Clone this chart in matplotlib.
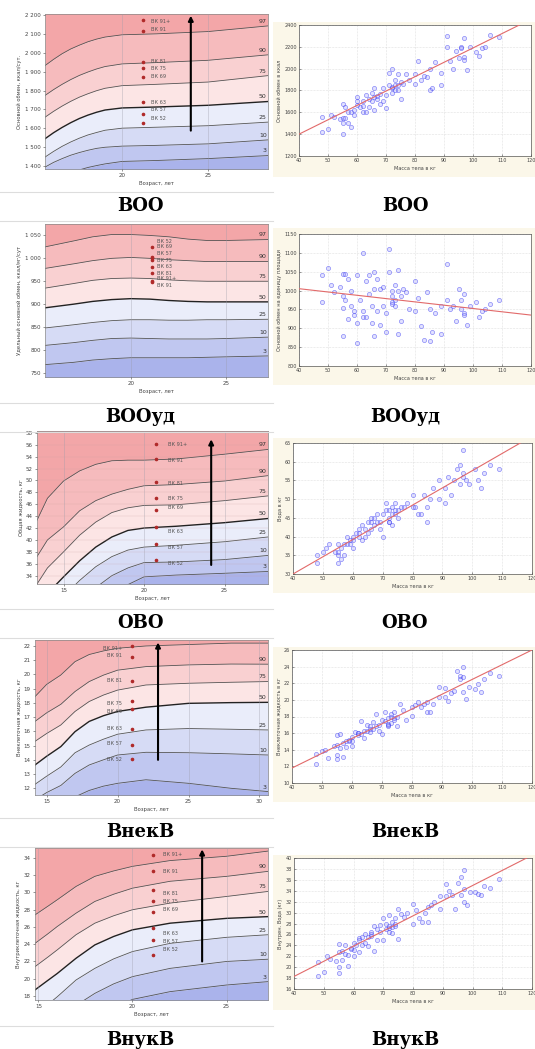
import matplotlib
matplotlib.use("Agg")
import matplotlib.pyplot as plt
from matplotlib.patches import Rectangle
import numpy as np

W, H = 535, 1049

# ---------------- centile panels (left column) ----------------
centiles = ["97", "90", "75", "50", "25", "10", "3"]
vk_names = ["ВК 91+", "ВК 91", "ВК 81", "ВК 75", "ВК 69", "ВК 63", "ВК 57", "ВК 52"]

# ВОО
boo_age = [15.5, 16, 16.5, 17, 17.5, 18, 18.5, 19, 20, 22, 25, 28.5]
boo_c97 = [1932, 1965, 1995, 2020, 2040, 2058, 2072, 2083, 2095, 2100, 2112, 2142]
boo_c90 = [1774, 1805, 1833, 1858, 1880, 1898, 1914, 1927, 1941, 1948, 1960, 1989]
boo_c75 = [1659, 1690, 1718, 1743, 1765, 1783, 1799, 1812, 1826, 1833, 1845, 1879]
boo_c50 = [1545, 1577, 1605, 1630, 1652, 1670, 1685, 1697, 1708, 1713, 1722, 1742]
boo_c25 = [1448, 1478, 1505, 1528, 1548, 1565, 1578, 1590, 1601, 1606, 1614, 1633]
boo_c10 = [1395, 1420, 1440, 1458, 1472, 1484, 1494, 1500, 1506, 1510, 1518, 1539]
boo_c3 = [1310, 1330, 1350, 1366, 1380, 1393, 1403, 1412, 1425, 1430, 1440, 1456]
boo_vk = [2174, 2117, 1953, 1920, 1874, 1738, 1677, 1627]
boo_vk_lab = [2166, 2121, 1953, 1915, 1874, 1738, 1700, 1654]
boo_yticks = [1400, 1500, 1600, 1700, 1800, 1900, 2000, 2100, 2200]
boo_yticklabels = ["1 400", "1 500", "1 600", "1 700", "1 800", "1 900", "2 000", "2 100", "2 200"]

# ВООуд
bood_age = [15.5, 17, 18, 19, 20, 21, 22, 23, 24, 25, 27.2]
bood_c97 = [1025, 1038, 1047, 1052, 1052, 1050, 1047, 1042, 1039, 1039, 1041]
bood_c90 = [978, 988, 995, 1000, 1002, 1000, 997, 995, 993, 993, 993]
bood_c75 = [935, 945, 952, 956, 957, 956, 953, 951, 950, 950, 950]
bood_c50 = [892, 900, 906, 910, 912, 911, 908, 906, 905, 905, 905]
bood_c25 = [848, 855, 860, 864, 866, 866, 865, 865, 866, 866, 867]
bood_c10 = [810, 816, 821, 825, 826, 825, 824, 824, 824, 825, 828]
bood_c3 = [768, 773, 778, 781, 783, 783, 783, 783, 784, 785, 787]
bood_names = ["ВК 52", "ВК 69", "ВК 57", "ВК 75", "ВК 63", "ВК 81", "ВК 91+", "ВК 91"]
bood_vk = [1025, 1003, 1000, 997, 981, 967, 950, 948]
bood_vk_lab = [1037, 1025, 1011, 996, 982, 967, 955, 941]
bood_yticks = [750, 800, 850, 900, 950, 1000, 1050]
bood_yticklabels = ["750", "800", "850", "900", "950", "1 000", "1 050"]

# ОВО
ovo_age = [13.35, 14, 15, 16, 17, 18, 19, 20, 22, 25, 27.7]
ovo_c97 = [43.3, 47.0, 49.9, 51.6, 52.7, 53.3, 53.4, 53.4, 53.6, 54.4, 55.2]
ovo_c90 = [37.2, 40.0, 42.2, 44.9, 46.6, 47.7, 48.5, 49.1, 49.3, 49.9, 50.8]
ovo_c75 = [32.6, 35.3, 38.0, 40.8, 43.0, 44.6, 45.4, 45.8, 45.9, 46.6, 47.4]
ovo_c50 = [29.0, 31.0, 33.8, 36.5, 38.8, 40.5, 41.6, 42.0, 42.3, 42.9, 43.6]
ovo_c25 = [26.0, 28.0, 30.5, 33.2, 35.5, 37.2, 38.3, 38.8, 39.1, 39.7, 40.5]
ovo_c10 = [22.0, 24.0, 27.0, 30.0, 32.0, 34.0, 35.3, 36.2, 36.3, 36.7, 37.4]
ovo_c3 = [18.0, 20.0, 23.0, 26.0, 28.5, 31.0, 32.5, 33.8, 34.1, 34.4, 34.7]
ovo_vk = [56.1, 53.6, 49.8, 47.1, 45.1, 42.1, 39.4, 36.7]
ovo_vk_lab = [56.1, 53.4, 49.5, 46.9, 45.5, 41.5, 38.8, 36.1]
ovo_yticks = [34, 36, 38, 40, 42, 44, 46, 48, 50, 52, 54, 56, 58]

# ВнекВ
vnek_age = [14.18, 15, 16, 17, 18, 19, 20, 22, 25, 28, 30.6]
vnek_c97 = [18.44, 19.3, 19.96, 20.9, 21.4, 21.65, 21.84, 22.0, 22.1, 22.2, 22.2]
vnek_c90 = [16.7, 17.3, 17.9, 18.8, 19.5, 19.95, 20.3, 20.55, 20.67, 20.73, 20.72]
vnek_c75 = [15.3, 15.85, 16.45, 17.4, 18.1, 18.55, 18.9, 19.26, 19.38, 19.45, 19.5]
vnek_c50 = [13.64, 14.25, 14.93, 15.98, 16.7, 17.1, 17.4, 17.7, 17.97, 18.02, 18.04]
vnek_c25 = [12.28, 12.85, 13.5, 14.5, 15.04, 15.45, 15.8, 16.1, 16.2, 16.15, 16.1]
vnek_c10 = [11.2, 11.7, 12.2, 13.05, 13.64, 14.0, 14.34, 14.53, 14.5, 14.42, 14.34]
vnek_c3 = [9.5, 10.2, 10.9, 11.4, 11.85, 12.15, 12.35, 12.6, 12.35, 12.0, 11.77]
vnek_vk = [22.0, 21.2, 19.56, 18.13, 17.55, 16.17, 15.04, 14.04]
vnek_vk_lab = [21.84, 21.3, 19.56, 17.97, 17.38, 16.2, 15.16, 14.04]
vnek_yticks = [12, 13, 14, 15, 16, 17, 18, 19, 20, 21, 22]

# ВнукВ
vnuk_age = [14.82, 15.5, 16, 17, 18, 19, 20, 22, 25, 27.2]
vnuk_c97 = [27.4, 28.4, 29.15, 30.7, 31.87, 32.5, 33.03, 33.7, 34.2, 34.8]
vnuk_c90 = [24.1, 25.2, 26.05, 27.6, 28.96, 29.8, 30.5, 31.3, 31.87, 32.45]
vnuk_c75 = [21.4, 22.5, 23.34, 25.1, 26.44, 27.3, 28.0, 28.77, 29.54, 30.12]
vnuk_c50 = [18.7, 19.8, 20.6, 22.37, 23.92, 24.9, 25.67, 26.44, 27.0, 27.2]
vnuk_c25 = [15.8, 17.0, 17.9, 19.85, 21.2, 22.3, 23.15, 24.1, 24.8, 25.1]
vnuk_c10 = [12.0, 13.5, 14.5, 16.9, 18.3, 19.4, 20.24, 21.2, 22.0, 22.26]
vnuk_c3 = [8.0, 10.0, 11.0, 13.0, 15.0, 16.6, 17.6, 18.5, 19.27, 19.66]
vnuk_vk = [34.4, 32.5, 30.3, 29.0, 27.7, 25.85, 24.5, 22.8]
vnuk_vk_lab = [34.39, 32.45, 29.85, 28.96, 27.99, 25.2, 24.3, 23.34]
vnuk_yticks = [18, 20, 22, 24, 26, 28, 30, 32, 34]

# ---------------- scatter panels (right column) ----------------
mass = [48, 48, 50, 51, 52, 54, 55, 55, 55, 55,
        56, 56, 57, 57, 58, 58, 59, 60, 60, 60,
        61, 62, 62, 63, 63, 64, 64, 65, 65, 66,
        66, 67, 67, 68, 68, 69, 69, 70, 70, 71,
        71, 72, 72, 72, 73, 73, 73, 74, 74, 75,
        75, 76, 77, 78, 80, 80, 81, 82, 83, 84,
        85, 85, 86, 87, 89, 89, 91, 91, 92, 93,
        94, 95, 96, 96, 97, 97, 97, 98, 99, 101,
        102, 103, 104, 106, 109, 66, 72, 62, 74, 59]
bmr = [1560, 1420, 1450, 1580, 1560, 1540, 1400, 1500, 1550, 1680,
       1650, 1550, 1500, 1600, 1600, 1470, 1580, 1670, 1700, 1740,
       1650, 1600, 1700, 1600, 1760, 1720, 1650, 1780, 1700, 1820,
       1620, 1720, 1750, 1680, 1770, 1700, 1820, 1760, 1640, 1960,
       1850, 2000, 1820, 1780, 1800, 1850, 1900, 1850, 1950, 1880,
       1720, 1860, 1950, 1900, 1950, 1860, 2070, 1900, 1930, 1920,
       1800, 2000, 1820, 2060, 1960, 1850, 2300, 2200, 2070, 2000,
       2160, 2100, 2200, 2190, 2280, 2110, 2080, 1990, 2200, 2150,
       2120, 2190, 2200, 2310, 2290, 1740, 1830, 1660, 1800, 1620]
bmr_area = [1040, 970, 1060, 1015, 995, 1010, 1045, 985, 955, 880,
            1045, 975, 1030, 925, 1000, 960, 945, 1040, 915, 860,
            975, 1100, 930, 1025, 930, 1040, 990, 960, 915, 1005,
            880, 1030, 945, 1005, 910, 960, 1010, 940, 890, 1110,
            1050, 1000, 970, 965, 975, 1015, 960, 1055, 885, 985,
            920, 1005, 995, 950, 945, 1025, 980, 905, 870, 995,
            865, 950, 890, 940, 960, 885, 1070, 975, 950, 960,
            920, 1005, 975, 950, 940, 935, 990, 910, 960, 970,
            930, 945, 950, 965, 975, 1050, 985, 945, 1000, 935]
water = [35, 33, 36, 37, 38, 36, 38, 33, 35, 36,
         37, 34, 38, 35, 38, 40, 38, 40, 39, 37,
         41, 40, 42, 39, 43, 42, 40, 44, 41, 44,
         42, 43, 45, 44, 46, 42, 44, 46, 40, 49,
         47, 45, 47, 44, 46, 48, 43, 46, 49, 47,
         45, 48, 48, 49, 48, 51, 48, 46, 46, 51,
         48, 44, 50, 53, 50, 55, 53, 49, 56, 51,
         55, 58, 54, 59, 63, 57, 56, 55, 54, 58,
         55, 53, 57, 59, 58, 45, 44, 41, 47, 39]
ecw = [13.5, 12.3, 13.9, 14.0, 13.0, 14.5, 14.6, 13.4, 12.9, 15.8,
       15.9, 14.2, 13.1, 14.8, 15.0, 14.3, 15.2, 15.5, 14.4, 15.1,
       16.1, 15.8, 16.0, 15.9, 17.5, 16.3, 15.4, 17.0, 16.2, 16.8,
       16.1, 16.5, 17.3, 16.9, 18.3, 16.2, 17.0, 17.6, 15.9, 18.5,
       17.4, 17.8, 16.8, 17.1, 17.2, 17.9, 18.3, 17.6, 18.6, 18.0,
       16.9, 19.5, 18.8, 17.6, 19.2, 18.1, 19.4, 19.8, 19.2, 19.5,
       18.6, 19.7, 18.5, 19.5, 20.4, 21.5, 21.4, 20.3, 19.9, 20.8,
       21.1, 23.5, 22.9, 22.5, 23.9, 22.8, 21.0, 20.1, 21.6, 21.3,
       21.9, 21.0, 22.5, 23.2, 22.9, 16.5, 17.0, 16.0, 17.8, 15.0]
icw = [21.0, 18.4, 19.2, 22.0, 21.5, 21.2, 18.9, 20.0, 22.8, 24.3,
       23.0, 21.4, 22.5, 24.0, 22.2, 20.3, 23.5, 24.5, 22.0, 23.2,
       24.0, 25.3, 22.8, 25.5, 24.0, 26.1, 24.5, 25.6, 23.8, 26.5,
       25.8, 27.5, 23.0, 27.0, 25.0, 26.5, 27.8, 29.0, 24.9, 28.0,
       27.0, 29.5, 27.2, 26.5, 27.3, 28.2, 26.3, 29.0, 27.6, 30.6,
       25.2, 29.8, 29.1, 30.0, 28.0, 31.5, 30.5, 29.0, 28.2, 30.0,
       28.2, 31.0, 31.3, 32.0, 33.1, 30.6, 35.3, 33.0, 34.0, 33.2,
       30.7, 35.5, 36.5, 33.2, 37.8, 34.4, 32.0, 31.4, 33.8, 33.8,
       33.4, 33.2, 34.8, 34.5, 36.2, 26.0, 27.5, 25.0, 28.0, 23.3]
fit_x = [40, 120]
bmr_fit = [1400, 2453]
bmr_area_fit = [1005, 935]
water_fit = [30, 66.8]
ecw_fit = [11.8, 26.0]
icw_fit = [18.3, 40.5]

captions = ["ВОО", "ВООуд", "ОВО", "ВнекВ", "ВнукВ"]

band_colors = ["#f3a6a8", "#f6bbbd", "#f9d0d1", "#fce5e5",
               "#eaedfa", "#d6dbf5", "#c0c7f0", "#aab3eb"]

fig = plt.figure(figsize=(W / 100, H / 100), dpi=100)
fig.patch.set_facecolor("white")


def px_axes(x0, y0, x1, y1):
    return fig.add_axes([x0 / W, 1 - y1 / H, (x1 - x0) / W, (y1 - y0) / H])


def centile_panel(rect, age, curves, xlim, ylim, xticks, yticks, yticklabels,
                  ylabel, dot_x, dots, lab_x, lab_y, names, lab_left=False,
                  arrow=None, hgrid=False):
    ax = px_axes(*rect)
    age = np.array(age)
    span = ylim[1] - ylim[0]
    bounds = [np.full(len(age), ylim[1] + span)] + [np.array(c) for c in curves] \
        + [np.full(len(age), ylim[0] - span)]
    for i in range(8):
        ax.fill_between(age, bounds[i + 1], bounds[i], color=band_colors[i], lw=0, zorder=0)
    for i, c in enumerate(curves):
        ax.plot(age, c, color="#222222" if i == 3 else "#555555",
                lw=1.0 if i == 3 else 0.6, zorder=2)
        ax.annotate(centiles[i], (xlim[1], c[-1]), xytext=(-1, 1.5),
                    textcoords="offset points", ha="right", va="bottom",
                    fontsize=4.5, color="#333333", zorder=4, clip_on=True)
    ax.plot([dot_x] * len(dots), dots, "o", color="#b02a2a", ms=1.6, zorder=5)
    for name, yv in zip(names, lab_y):
        ax.text(lab_x, yv, name, fontsize=3.6, color="#555555", va="center",
                ha="right" if lab_left else "left", zorder=5)
    if arrow is not None:
        ax.annotate("", xy=(arrow[0], arrow[2]), xytext=(arrow[0], arrow[1]),
                    arrowprops=dict(arrowstyle="-|>", color="black", lw=1.5,
                                    mutation_scale=7, shrinkA=0, shrinkB=0), zorder=6)
    ax.set_xlim(*xlim)
    ax.set_ylim(*ylim)
    ax.set_xticks(xticks)
    ax.set_yticks(yticks)
    ax.set_yticklabels(yticklabels)
    ax.tick_params(labelsize=4, length=1.5, width=0.4, pad=1.5, colors="#444444")
    ax.set_xlabel("Возраст, лет", fontsize=3.8, color="#444444", labelpad=2)
    ax.set_ylabel(ylabel, fontsize=3.8, color="#444444", labelpad=2)
    ax.grid(axis="x", color="#9a9aa8", lw=0.4, alpha=0.6, zorder=1)
    if hgrid:
        ax.grid(axis="y", color="#c8a0a0", lw=0.3, alpha=0.5, zorder=1)
    ax.set_axisbelow(False)
    for s in ax.spines.values():
        s.set_color("#888888")
        s.set_linewidth(0.5)
    return ax


def scatter_panel(rect, box, yv, fit, ylim, yticks, ylabel):
    fig.add_artist(Rectangle((box[0] / W, 1 - box[3] / H), (box[2] - box[0]) / W,
                             (box[3] - box[1]) / H, transform=fig.transFigure,
                             facecolor="#fbf7e9", edgecolor="none", zorder=-1))
    ax = px_axes(*rect)
    ax.scatter(mass, yv, s=9, facecolor=(0.55, 0.55, 1.0, 0.25),
               edgecolor=(0.25, 0.25, 0.95, 0.6), lw=0.5, zorder=3)
    ax.plot(fit_x, fit, color="#e26a6a", lw=0.8, zorder=4)
    ax.set_xlim(40, 120)
    ax.set_ylim(*ylim)
    ax.set_xticks(range(40, 121, 10))
    ax.set_yticks(yticks)
    ax.grid(color="#c8c8c8", lw=0.4, ls=":", zorder=1)
    ax.tick_params(labelsize=3.5, length=1.5, width=0.4, pad=1.5, colors="#444444",
                   direction="in")
    ax.set_xlabel("Масса тела в кг", fontsize=3.6, color="#444444", labelpad=2)
    ax.set_ylabel(ylabel, fontsize=3.6, color="#444444", labelpad=2)
    for s in ax.spines.values():
        s.set_color("#555555")
        s.set_linewidth(0.5)
    return ax


centile_panel((45, 14, 268, 169), boo_age,
              [boo_c97, boo_c90, boo_c75, boo_c50, boo_c25, boo_c10, boo_c3],
              (15.5, 28.5), (1385, 2205), [20, 25], boo_yticks, boo_yticklabels,
              "Основной обмен, ккал/сут.", 21.19, boo_vk, 21.7, boo_vk_lab, vk_names,
              arrow=(24.0, 1588, 2196))
centile_panel((45, 224, 268, 377), bood_age,
              [bood_c97, bood_c90, bood_c75, bood_c50, bood_c25, bood_c10, bood_c3],
              (15.5, 27.2), (741, 1075), [20, 25], bood_yticks, bood_yticklabels,
              "Удельный основной обмен, ккал/м²/сут", 21.09, bood_vk, 21.4,
              bood_vk_lab, bood_names)
centile_panel((37, 431, 268, 584), ovo_age,
              [ovo_c97, ovo_c90, ovo_c75, ovo_c50, ovo_c25, ovo_c10, ovo_c3],
              (13.35, 27.7), (32.6, 58.3), [15, 20, 25], ovo_yticks,
              [str(v) for v in ovo_yticks], "Общая жидкость, кг", 20.77, ovo_vk,
              21.5, ovo_vk_lab, vk_names, arrow=(24.17, 35.8, 56.9), hgrid=True)
centile_panel((35, 640, 268, 795), vnek_age,
              [vnek_c97, vnek_c90, vnek_c75, vnek_c50, vnek_c25, vnek_c10, vnek_c3],
              (14.18, 30.6), (11.53, 22.42), [15, 20, 25, 30], vnek_yticks,
              [str(v) for v in vnek_yticks], "Внеклеточная жидкость, кг", 21.02,
              vnek_vk, 20.3, vnek_vk_lab, vk_names, lab_left=True,
              arrow=(22.85, 14.0, 22.25))
centile_panel((35, 848, 268, 1000), vnuk_age,
              [vnuk_c97, vnuk_c90, vnuk_c75, vnuk_c50, vnuk_c25, vnuk_c10, vnuk_c3],
              (14.82, 27.2), (17.53, 35.16), [15, 20, 25], vnuk_yticks,
              [str(v) for v in vnuk_yticks], "Внутриклеточная жидкость, кг", 21.07,
              vnuk_vk, 21.64, vnuk_vk_lab, vk_names, arrow=(23.7, 22.0, 35.0))

scatter_panel((299, 25, 531, 156), (273, 22, 535, 177), bmr, bmr_fit, (1200, 2400),
              range(1200, 2401, 200), "Основной обмен в ккал")
scatter_panel((299, 234, 531, 366), (273, 228, 535, 385), bmr_area, bmr_area_fit,
              (800, 1150), range(800, 1151, 50), "Основной обмен на единицу площади")
scatter_panel((293, 443, 532, 574), (273, 438, 535, 593), water, water_fit, (30, 65),
              range(30, 66, 5), "Вода в кг")
scatter_panel((292, 650, 532, 783), (273, 647, 535, 802), ecw, ecw_fit, (10, 26),
              range(10, 27, 2), "Внеклеточная жидкость в кг")
scatter_panel((294, 858, 532, 989), (273, 855, 535, 1010), icw, icw_fit, (16, 40),
              range(16, 41, 2), "Внутрен. Вода (кг)")

caption_y = [206, 417, 623, 832, 1040]
for cap, cy in zip(captions, caption_y):
    for cx in (140, 405):
        fig.text(cx / W, 1 - cy / H, cap, ha="center", va="center",
                 fontsize=13, fontweight="bold", family="DejaVu Serif")
    for ly in (cy - 14, cy + 15):
        fig.add_artist(plt.Line2D([0, 273 / W], [1 - ly / H, 1 - ly / H],
                                  transform=fig.transFigure, color="#dddddd", lw=0.8))

fig.savefig("out.png", dpi=100)
